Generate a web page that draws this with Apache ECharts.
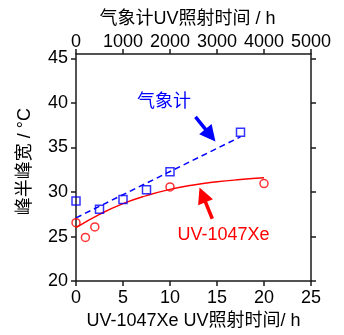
<!DOCTYPE html>
<html><head><meta charset="utf-8">
<script src="https://cdn.jsdelivr.net/npm/echarts@6/dist/echarts.min.js"></script>
<style>html,body{margin:0;padding:0;background:#fff}#c{width:344px;height:335px}</style>
</head><body><div id="c"></div>
<script>
// UV-1047Xe (bottom axis, h)
const xenonHours = [0, 1, 2, 10, 20];
const xenonFwhm = [26.56, 24.9, 26.08, 30.58, 30.95];
const xenonFitHours = [0, 2.5, 5, 7.5, 10, 12.5, 15, 17.5, 20];
const xenonFitFwhm = [26.0, 27.5, 28.7, 29.6, 30.3, 30.8, 31.15, 31.4, 31.6];
// 气象计 (top axis, h)
const meterHours = [0, 500, 1000, 1500, 2000, 3500];
const meterFwhm = [29.0, 28.08, 29.15, 30.25, 32.28, 36.7];
const meterFitHours = [0, 3500];
const meterFitFwhm = [27.1, 36.2];
// tick labels
const bottomTicks = [0, 5, 10, 15, 20, 25];
const topTicks = [0, 1000, 2000, 3000, 4000, 5000];
const yTicks = [20, 25, 30, 35, 40, 45];
const yMax = 45.5;

const FONT = '"Liberation Sans", Arial, "Noto Sans CJK SC", sans-serif';
const BLUE = '#0000ff', RED = '#ff0000', AX = '#1a1a1a';

const chart = echarts.init(document.getElementById('c'), null, {renderer: 'canvas'});
const axisCommon = {
  axisLine: {show: true, onZero: false, lineStyle: {color: AX, width: 1.5}},
  axisTick: {show: true, length: 5, lineStyle: {color: AX, width: 1.5}},
  splitLine: {show: false},
  axisLabel: {color: '#000', fontSize: 18, fontFamily: FONT, formatter: v => String(v)},
  nameTextStyle: {color: '#000', fontSize: 18, fontFamily: FONT}
};
function pairs(xs, ys) { return xs.map((x, i) => [x, ys[i]]); }

chart.setOption({
  animation: false,
  backgroundColor: '#fff',
  grid: {left: 76, right: 33, top: 54, bottom: 50},
  xAxis: [
    Object.assign({}, axisCommon, {
      type: 'value', position: 'bottom', min: bottomTicks[0], max: bottomTicks[bottomTicks.length - 1], interval: 5,
      name: 'UV-1047Xe UV照射时间/ h', nameLocation: 'middle', nameGap: 28,
      axisLabel: Object.assign({}, axisCommon.axisLabel, {margin: 8})
    }),
    Object.assign({}, axisCommon, {
      type: 'value', position: 'top', min: topTicks[0], max: topTicks[topTicks.length - 1], interval: 1000,
      name: '气象计UV照射时间 / h', nameLocation: 'middle', nameGap: 24,
      nameTextStyle: Object.assign({}, axisCommon.nameTextStyle, {padding: [0, 12, 0, 0]}),
      axisLabel: Object.assign({}, axisCommon.axisLabel, {margin: 3})
    })
  ],
  yAxis: [
    Object.assign({}, axisCommon, {
      type: 'value', position: 'left', min: yTicks[0], max: yMax,
      axisTick: Object.assign({}, axisCommon.axisTick, {customValues: yTicks}),
      axisLabel: Object.assign({}, axisCommon.axisLabel, {customValues: yTicks, margin: 8}),
      name: '峰半峰宽 / °C', nameLocation: 'middle', nameGap: 42,
      nameTextStyle: Object.assign({}, axisCommon.nameTextStyle, {padding: [0, 0, 0, 12]})
    }),
    Object.assign({}, axisCommon, {
      type: 'value', position: 'right', min: yTicks[0], max: yMax,
      axisTick: Object.assign({}, axisCommon.axisTick, {customValues: yTicks}),
      axisLabel: {show: false}
    })
  ],
  series: [
    {type: 'line', name: 'xenon fit', xAxisIndex: 0, yAxisIndex: 0, smooth: true, showSymbol: false,
     data: pairs(xenonFitHours, xenonFitFwhm), lineStyle: {color: RED, width: 1.5}, z: 2},
    {type: 'scatter', name: 'UV-1047Xe', xAxisIndex: 0, yAxisIndex: 0, symbol: 'circle', symbolSize: 8,
     data: pairs(xenonHours, xenonFwhm), itemStyle: {color: 'rgba(0,0,0,0)', borderColor: RED, borderWidth: 1.5}, z: 3},
    {type: 'line', name: 'meter fit', xAxisIndex: 1, yAxisIndex: 0, showSymbol: false,
     data: pairs(meterFitHours, meterFitFwhm), lineStyle: {color: BLUE, width: 1.5, type: [6, 4]}, z: 2},
    {type: 'scatter', name: '气象计', xAxisIndex: 1, yAxisIndex: 0, symbol: 'rect', symbolSize: 8,
     data: pairs(meterHours, meterFwhm), itemStyle: {color: 'rgba(0,0,0,0)', borderColor: BLUE, borderWidth: 1.5}, z: 3},
    {type: 'lines', coordinateSystem: 'cartesian2d', xAxisIndex: 0, yAxisIndex: 0,
     symbol: ['none', 'triangle'], symbolSize: [13, 16],
     data: [{coords: [[12.71, 38.44], [14.3, 36.37]], lineStyle: {color: BLUE}},
            {coords: [[14.5, 27.0], [13.46, 29.69]], lineStyle: {color: RED}}],
     lineStyle: {width: 3.5, opacity: 1}, z: 4}
  ]
});

const labels = [
  {text: '气象计', at: [9.35, 40.13], color: BLUE},
  {text: 'UV-1047Xe', at: [15.7, 25.2], color: RED}
];
chart.setOption({
  graphic: labels.map(l => {
    const p = chart.convertToPixel({xAxisIndex: 0, yAxisIndex: 0}, l.at);
    return {type: 'text', x: p[0], y: p[1], z: 10,
      style: {text: l.text, fill: l.color, font: '18px ' + FONT, align: 'center', verticalAlign: 'middle'}};
  })
});
</script></body></html>
